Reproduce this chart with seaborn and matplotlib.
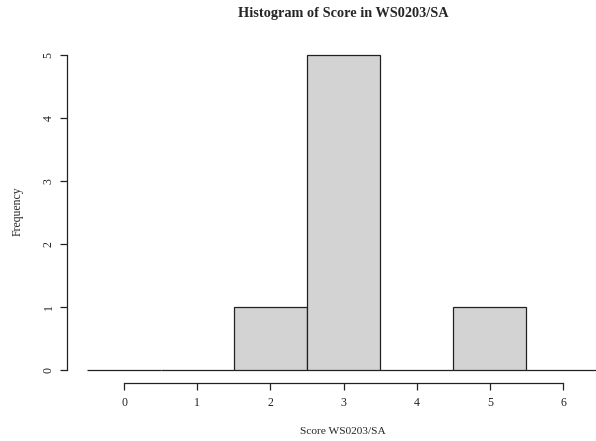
import numpy as np
import seaborn as sns
import matplotlib.pyplot as plt

# Scores observed in WS0203/SA
scores = [2, 3, 3, 3, 3, 3, 5]
bin_edges = np.arange(-0.5, 7.0, 1.0)
x_ticks = [0, 1, 2, 3, 4, 5, 6]
y_ticks = [0, 1, 2, 3, 4, 5]

sns.set_style("ticks")
plt.rcParams['font.family'] = ['Liberation Serif', 'DejaVu Serif']

fig = plt.figure(figsize=(5.96, 4.41), dpi=100)
ax = fig.add_axes([0.1124, 0.1324, 0.928, 0.7715])

sns.histplot(x=scores, bins=bin_edges, color='#d3d3d3', edgecolor='#222222',
             linewidth=0.9, alpha=1, ax=ax)

ax.set_xlim(-0.78, 6.78)
ax.set_ylim(-0.2, 5.2)
ax.set_xticks(x_ticks)
ax.set_yticks(y_ticks)
ax.set_yticklabels([str(v) for v in y_ticks], rotation=90, va='center')

for side in ['top', 'right']:
    ax.spines[side].set_visible(False)
ax.spines['left'].set_bounds(0, 5)
ax.spines['bottom'].set_bounds(0, 6)
for side in ['left', 'bottom']:
    ax.spines[side].set_linewidth(0.9)
    ax.spines[side].set_color('#222222')
ax.tick_params(axis='both', length=5, width=0.9, colors='#222222',
               labelsize=8.5)
ax.tick_params(axis='x', pad=5)
ax.tick_params(axis='y', pad=4)

ax.set_xlabel('')
ax.set_ylabel('')
fig.text(0.576, 0.021, 'Score WS0203/SA', ha='center', va='center', fontsize=8.2)
fig.text(0.030, 0.522, 'Frequency', ha='center', va='center', rotation=90,
         fontsize=8.5)
fig.text(0.576, 0.9705, 'Histogram of Score in WS0203/SA', ha='center',
         va='center', fontsize=10.3, fontweight='bold')

plt.savefig('out.png', dpi=100)
plt.close()
